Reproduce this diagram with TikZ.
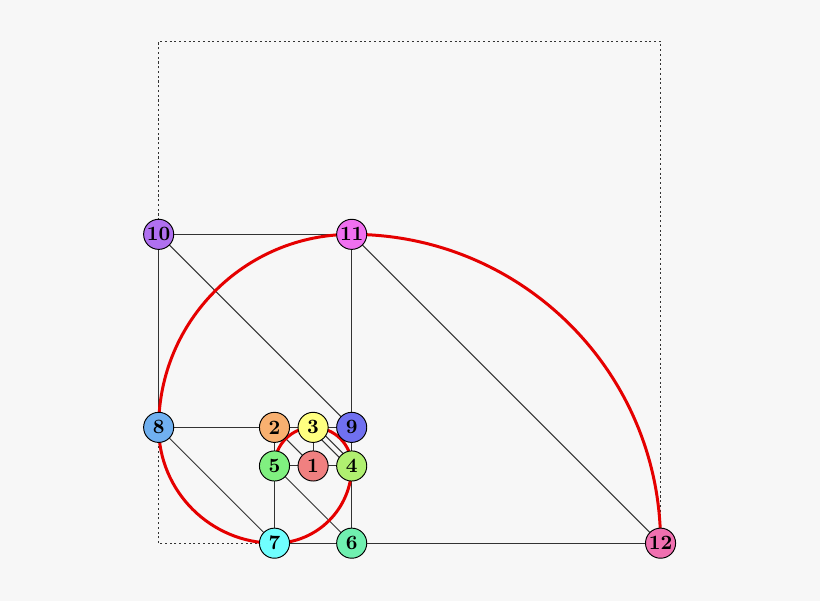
\documentclass[tikz,border=0pt]{standalone}
\usetikzlibrary{calc}
\definecolor{bg}{HTML}{F7F7F7}
\definecolor{c1}{HTML}{F08080}
\definecolor{c2}{HTML}{F8B070}
\definecolor{c3}{HTML}{FFFF80}
\definecolor{c4}{HTML}{B0F070}
\definecolor{c5}{HTML}{80F080}
\definecolor{c6}{HTML}{70F0B0}
\definecolor{c7}{HTML}{70FFFF}
\definecolor{c8}{HTML}{70B0F0}
\definecolor{c9}{HTML}{7070F0}
\definecolor{c10}{HTML}{B070F0}
\definecolor{c11}{HTML}{F070F0}
\definecolor{c12}{HTML}{F070B0}
\tikzset{
  vtx/.style={circle, draw=black, line width=0.7pt, minimum size=0.78cm, inner sep=0pt},
  edge/.style={draw=black!80, line width=0.7pt},
  spiral/.style={draw=red!90!black, line width=2.2pt},
  frame/.style={draw=black!80, line width=0.7pt, dash pattern=on 1.5pt off 2pt}
}
\begin{document}
\begin{tikzpicture}
\fill[bg] (-8.11,-3.50) rectangle (13.13,12.07);
\useasboundingbox (-8.11,-3.50) rectangle (13.13,12.07);
% vertex positions
\coordinate (p1) at (0,0);
\coordinate (p2) at (-1,1);
\coordinate (p3) at (0,1);
\coordinate (p4) at (1,0);
\coordinate (p5) at (-1,0);
\coordinate (p6) at (1,-2);
\coordinate (p7) at (-1,-2);
\coordinate (p8) at (-4,1);
\coordinate (p9) at (1,1);
\coordinate (p10) at (-4,6);
\coordinate (p11) at (1,6);
\coordinate (p12) at (9,-2);
\coordinate (fbl) at (-4,-2);
\coordinate (ftr) at (9,11);
% edges
\draw[edge] (p10) -- (p11);
\draw[edge] (p10) -- (p8);
\draw[edge] (p10) -- (p9);
\draw[edge] (p11) -- (p9);
\draw[edge] (p11) -- (p12);
\draw[edge] (p8) -- (p2);
\draw[edge] (p2) -- (p3);
\draw[edge] (p3) -- (p9);
\draw[edge] (p8) -- (p7);
\draw[edge] (p2) -- (p5);
\draw[edge] (p2) -- (p1);
\draw[edge] (p3) -- (p1);
\draw[edge] ([shift={(-0.05,-0.05)}]p3) -- ([shift={(-0.05,-0.05)}]p4);
\draw[edge] ([shift={(0.05,0.05)}]p3) -- ([shift={(0.05,0.05)}]p4);
\draw[edge] (p9) -- (p4);
\draw[edge] (p5) -- (p1);
\draw[edge] (p1) -- (p4);
\draw[edge] (p5) -- (p7);
\draw[edge] (p5) -- (p6);
\draw[edge] (p4) -- (p6);
\draw[edge] (p7) -- (p6);
\draw[edge] (p6) -- (p12);
% dotted frame
\draw[frame] (fbl) rectangle (ftr);
% spiral
\draw[spiral] (p5) arc[start angle=180, end angle=0, radius=1]
  arc[start angle=0, end angle=-90, radius=2]
  arc[start angle=-90, end angle=-180, radius=3]
  arc[start angle=180, end angle=90, radius=5]
  arc[start angle=90, end angle=0, radius=8];
% nodes
\foreach \i in {1,...,12}{
  \node[vtx, fill=c\i] (n\i) at (p\i) {\scalebox{1.5}{\bfseries\i}};
}
\end{tikzpicture}
\end{document}
